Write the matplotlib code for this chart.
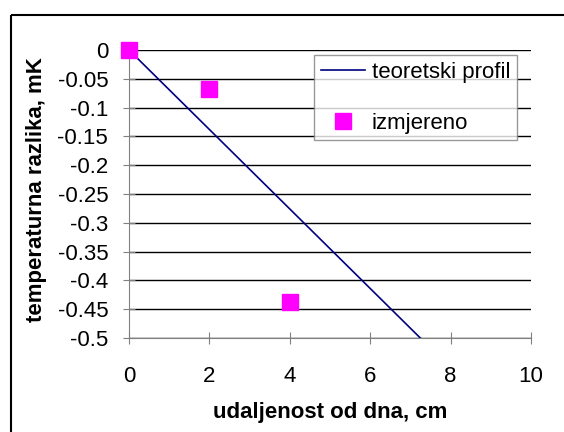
import matplotlib.pyplot as plt
from matplotlib.patches import Rectangle
import numpy as np

plt.rcParams['font.family'] = ['Liberation Sans', 'DejaVu Sans']

# teoretski profil (pravac kroz ishodiste)
x_teor = [0, 10]
y_teor = [0, -0.69]

# izmjerene vrijednosti
x_mj = [0, 2, 4]
y_mj = [0, -0.068, -0.438]

W, H = 564, 432
fig = plt.figure(figsize=(W / 100, H / 100), dpi=100)

# okvir grafikona (vidljivi samo lijevi i gornji rub)
fig.patches.append(Rectangle((11 / W, 1 - 15 / H), 1.0, -1.0, transform=fig.transFigure,
                             fill=False, edgecolor='black', linewidth=1.5))

x0, x1 = 129, 531
y0, y1 = 50, 338
ax = fig.add_axes([x0 / W, 1 - y1 / H, (x1 - x0) / W, (y1 - y0) / H])

ax.plot(x_teor, y_teor, color='#000080', linewidth=1.2, label='teoretski profil', zorder=3)
ax.plot(x_mj, y_mj, linestyle='none', marker='s', markersize=11, color='#ff00ff',
        label='izmjereno', zorder=4, clip_on=False)

ax.set_xlim(0, 10)
ax.set_ylim(-0.5, 0)
ax.set_xticks(np.arange(0, 11, 2))
ax.set_yticks(np.round(np.arange(-0.5, 0.001, 0.05), 2))
ax.set_yticklabels(['0' if abs(v) < 1e-9 else f'{v:g}' for v in ax.get_yticks()])

for v in ax.get_yticks():
    ax.axhline(v, color='black', linewidth=1.0, zorder=1)

for s in ['top', 'right']:
    ax.spines[s].set_visible(False)
ax.spines['left'].set_color('#808080')
ax.spines['bottom'].set_color('#808080')
ax.tick_params(axis='y', direction='inout', length=8, color='#808080', labelsize=16, pad=11)
ax.tick_params(axis='x', direction='inout', length=8, color='#808080', labelsize=16, pad=16)

ax.set_xlabel('udaljenost od dna, cm', fontsize=16, fontweight='bold', va='center')
ax.set_ylabel('temperaturna razlika, mK', fontsize=16, fontweight='bold', va='center')
ax.xaxis.set_label_coords(0.5, -0.257)
ax.yaxis.set_label_coords(-0.229, 0.514)

leg = ax.legend(loc='upper right', bbox_to_anchor=(517 / W, 1 - 55 / H), bbox_transform=fig.transFigure,
                fontsize=16, frameon=True, fancybox=False, borderpad=0.3, labelspacing=1.35,
                handlelength=2.0, handletextpad=0.3, borderaxespad=0)
leg.get_frame().set_edgecolor('#808080')
leg.get_frame().set_linewidth(1.0)

fig.savefig('out.png', dpi=100)
